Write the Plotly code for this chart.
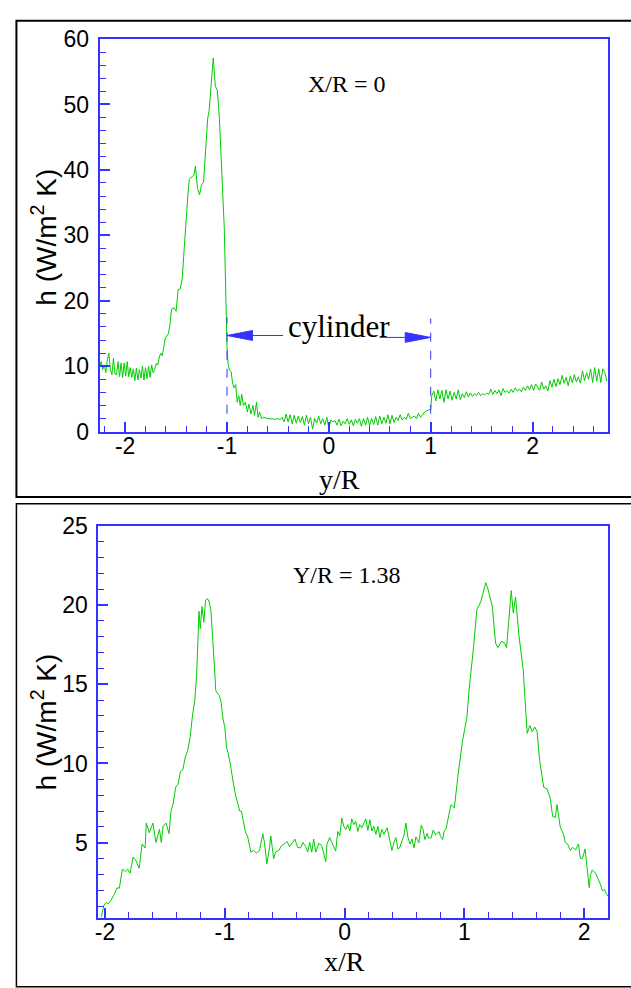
import plotly.graph_objects as go

# ---------------- data: top panel (X/R = 0) ----------------
y_top = [-2.25, -2.235, -2.22, -2.205, -2.19, -2.175, -2.16, -2.145, -2.13, -2.115,
         -2.10, -2.085, -2.07, -2.055, -2.04, -2.025, -2.01, -1.995, -1.98, -1.965,
         -1.95, -1.935, -1.92, -1.905, -1.89, -1.875, -1.86, -1.845, -1.83, -1.815,
         -1.80, -1.785, -1.77, -1.755, -1.74, -1.725, -1.71, -1.695, -1.68, -1.665,
         -1.65, -1.635, -1.62, -1.605, -1.59, -1.575, -1.56, -1.545, -1.535, -1.52,
         -1.50, -1.48, -1.46, -1.44, -1.42, -1.40, -1.385, -1.37, -1.345, -1.325,
         -1.31, -1.29, -1.27, -1.25, -1.23, -1.21, -1.19, -1.175, -1.155, -1.135,
         -1.115, -1.095, -1.075, -1.06, -1.045, -1.027, -1.015, -1.008, -1.0, -0.99,
         -0.975, -0.96, -0.945, -0.93, -0.915, -0.90, -0.885, -0.87, -0.855, -0.84,
         -0.82, -0.80, -0.785, -0.765, -0.745, -0.73, -0.71, -0.695, -0.68, -0.66,
         -0.64, -0.60, -0.56, -0.52, -0.50,
         -0.48, -0.46, -0.44, -0.42, -0.40, -0.38, -0.36, -0.34, -0.32, -0.30,
         -0.28, -0.26, -0.24, -0.22, -0.20, -0.18, -0.16, -0.14, -0.12, -0.10,
         -0.08, -0.06, -0.04, -0.02, 0.0, 0.02, 0.04, 0.06, 0.08, 0.10,
         0.12, 0.14, 0.16, 0.18, 0.20, 0.22, 0.24, 0.26, 0.28, 0.30,
         0.32, 0.34, 0.36, 0.38, 0.40, 0.42, 0.44, 0.46, 0.48, 0.50,
         0.52, 0.54, 0.56, 0.58, 0.60, 0.62, 0.64, 0.66, 0.68, 0.70,
         0.72, 0.74, 0.76, 0.78, 0.80, 0.82, 0.84, 0.86, 0.88, 0.90,
         0.92, 0.94, 0.96, 0.98, 1.0, 1.01, 1.03, 1.05, 1.07, 1.09,
         1.11, 1.13, 1.15, 1.17, 1.19, 1.21, 1.23, 1.25, 1.27, 1.29,
         1.31, 1.33, 1.35, 1.37, 1.39, 1.41, 1.43, 1.45, 1.47, 1.49,
         1.51, 1.53, 1.55, 1.57, 1.59, 1.61, 1.63, 1.65, 1.67, 1.69,
         1.71, 1.73, 1.75, 1.77, 1.79, 1.81, 1.83, 1.85, 1.87, 1.89,
         1.91, 1.93, 1.95, 1.97, 1.99, 2.01, 2.03, 2.05, 2.07, 2.09,
         2.11, 2.13, 2.15, 2.17, 2.19, 2.21, 2.23, 2.25, 2.27, 2.29,
         2.31, 2.33, 2.35, 2.37, 2.39, 2.41, 2.43, 2.45, 2.47, 2.49,
         2.51, 2.53, 2.55, 2.57, 2.59, 2.61, 2.63, 2.65, 2.67, 2.69,
         2.71, 2.73]
h_top = [10.0, 10.7, 9.5, 10.2, 9.0, 11.0, 12.0, 9.5, 8.7, 11.2,
         8.8, 8.7, 10.7, 8.4, 10.5, 8.3, 10.5, 8.5, 10.7, 8.4,
         9.8, 8.3, 9.6, 7.8, 9.7, 7.9, 9.5, 8.2, 10.0, 7.9,
         9.8, 8.1, 10.0, 8.3, 10.2, 9.0, 9.5, 10.4, 10.2, 11.4,
         12.0, 11.6, 13.0, 14.4, 14.6, 15.0, 16.4, 18.6, 18.9, 18.9,
         18.4, 21.7, 21.8, 23.3, 28.0, 33.0, 36.0, 38.6, 38.9, 39.2,
         40.6, 37.2, 36.2, 37.7, 38.1, 43.0, 47.8, 49.1, 53.0, 57.1,
         52.8, 52.2, 48.0, 43.7, 37.5, 31.2, 22.0, 16.4, 13.0, 10.4,
         9.4, 9.2, 7.4, 6.7, 7.2, 4.5, 5.5, 4.0, 5.7, 4.0,
         4.5, 3.0, 4.2, 2.7, 4.0, 2.5, 4.5, 2.2, 3.0, 2.0,
         2.2, 2.0, 1.9, 1.9, 2.0,
         1.8, 2.2, 1.5, 2.7, 1.5, 2.6, 1.2, 2.5, 1.3, 2.4,
         1.4, 2.3, 1.0, 2.5, 1.2, 2.2, 0.4, 2.0, 1.3, 2.4,
         1.2, 2.0, 1.0, 2.2, 0.5, 1.8, 1.5, 1.7, 1.0, 1.9,
         0.9, 1.6, 1.2, 2.0, 1.1, 1.8, 0.9, 1.9, 1.3, 2.0,
         0.8, 2.0, 1.0, 2.2, 0.9, 2.0, 1.1, 2.3, 1.0, 2.4,
         1.2, 2.2, 1.3, 2.6, 1.2, 2.5, 1.4, 2.2, 1.7, 2.6,
         1.8, 2.2, 1.9, 2.8, 2.0, 2.2, 2.4, 2.0, 2.8, 2.2,
         2.6, 3.0, 3.2, 3.3, 3.4, 5.5, 6.2, 4.7, 6.4, 5.0,
         6.3, 4.5, 6.4, 5.0, 6.2, 4.8, 6.0, 5.0, 6.4, 4.9,
         5.8, 5.2, 6.1, 5.3, 5.9, 5.4, 5.8, 5.5, 6.0, 5.5,
         5.8, 5.6, 5.9, 5.7, 6.5, 5.7, 6.3, 5.8, 6.4, 5.5,
         6.6, 6.0, 6.3, 5.9, 6.5, 6.0, 6.7, 6.2, 6.5, 6.1,
         6.8, 6.3, 7.0, 6.4, 7.2, 6.3, 7.3, 6.8, 6.3, 7.6,
         6.5, 7.0, 6.2, 7.8, 6.8, 8.0, 6.9, 8.1, 7.2, 8.6,
         7.4, 8.3, 7.0, 8.5, 7.5, 8.7, 7.6, 8.4, 7.4, 9.3,
         7.8, 9.0, 8.0, 9.6, 7.5, 9.8, 7.7, 9.6, 7.5, 9.6,
         9.0, 7.7]

# ---------------- data: bottom panel (Y/R = 1.38) ----------------
x_bot = [-2.04, -2.03, -2.01, -1.99, -1.975, -1.95, -1.92, -1.90, -1.88, -1.855,
         -1.83, -1.81, -1.79, -1.765, -1.74, -1.715, -1.69, -1.665, -1.655, -1.63,
         -1.60, -1.575, -1.545, -1.53, -1.515, -1.49, -1.465, -1.45, -1.43, -1.41,
         -1.39, -1.37, -1.35, -1.33, -1.31, -1.29, -1.27, -1.25, -1.235, -1.225,
         -1.215, -1.205, -1.19, -1.175, -1.16, -1.145, -1.13, -1.115, -1.10, -1.09,
         -1.075, -1.06, -1.045, -1.03, -1.015, -1.0, -0.985, -0.97, -0.955, -0.94,
         -0.925, -0.91, -0.895, -0.875, -0.86, -0.827, -0.81, -0.783, -0.76, -0.736,
         -0.71, -0.683, -0.669, -0.649, -0.626, -0.616, -0.592, -0.576, -0.549, -0.526,
         -0.502, -0.482, -0.459, -0.442, -0.415, -0.392, -0.368, -0.348, -0.325, -0.308,
         -0.291, -0.274, -0.258, -0.241, -0.214, -0.191, -0.174, -0.157, -0.147, -0.124,
         -0.107, -0.09, -0.074, -0.057, -0.04, -0.023, -0.007, 0.01, 0.027, 0.044,
         0.06, 0.077, 0.094, 0.11, 0.127, 0.144, 0.161, 0.177, 0.194, 0.211,
         0.228, 0.244, 0.261, 0.278, 0.295, 0.311, 0.328, 0.355, 0.378, 0.395,
         0.412, 0.428, 0.445, 0.462, 0.479, 0.495, 0.512, 0.529, 0.546, 0.562,
         0.579, 0.596, 0.62, 0.64, 0.653, 0.67, 0.69, 0.70, 0.722, 0.74,
         0.76, 0.777, 0.79, 0.80, 0.819, 0.83, 0.847, 0.888, 0.916, 0.949,
         0.985, 1.021, 1.04, 1.076, 1.104, 1.137, 1.178, 1.197, 1.233, 1.26,
         1.28, 1.308, 1.335, 1.352, 1.391, 1.408, 1.427, 1.455, 1.491, 1.524,
         1.546, 1.566, 1.588, 1.607, 1.628, 1.662, 1.69, 1.717, 1.737, 1.759,
         1.773, 1.80, 1.828, 1.841, 1.861, 1.885, 1.901, 1.928, 1.952, 1.968,
         1.985, 2.008, 2.028, 2.042, 2.052, 2.068, 2.095, 2.119, 2.136, 2.152,
         2.169, 2.186, 2.20]
h_bot = [0.2, 0.33, 1.04, 1.24, 1.14, 1.37, 1.78, 2.15, 2.13, 3.33,
         3.19, 3.33, 3.08, 4.1, 3.85, 3.39, 4.92, 4.67, 6.24, 5.63,
         6.24, 5.02, 5.84, 5.02, 6.04, 6.24, 5.57, 6.96, 7.5, 8.5,
         8.7, 9.5, 9.6, 10.4, 10.8, 11.6, 13.0, 14.0, 15.6, 17.5,
         19.6, 18.5, 19.9, 18.9, 20.3, 20.4, 20.2, 19.6, 18.0, 16.5,
         14.6, 14.4, 14.3, 13.8, 12.8, 12.3, 11.0, 10.6, 10.0, 9.2,
         8.6, 8.0, 7.6, 7.0, 6.96, 5.63, 5.43, 4.41, 4.51, 4.35,
         4.51, 5.57, 5.02, 3.65, 4.71, 5.43, 4.0, 4.41, 4.51, 4.82,
         4.92, 5.08, 4.76, 4.92, 5.23, 4.71, 4.67, 5.02, 4.76, 4.41,
         5.02, 4.41, 5.23, 4.41, 4.96, 4.82, 4.2, 3.8, 4.92, 5.33,
         5.02, 4.67, 4.47, 5.71, 5.43, 6.55, 6.04, 5.84, 6.14, 5.74,
         6.51, 6.14, 6.35, 5.71, 6.14, 5.94, 6.24, 6.51, 5.78, 6.45,
         5.74, 6.04, 5.53, 6.04, 5.33, 5.84, 5.53, 5.94, 5.12, 4.51,
         5.02, 5.33, 4.61, 4.71, 5.12, 5.43, 6.24, 5.33, 4.92, 5.23,
         4.67, 5.37, 5.0, 6.1, 5.9, 5.2, 5.6, 5.3, 5.3, 5.8,
         5.5, 5.6, 5.7, 5.4, 5.2, 5.7, 5.9, 7.4, 7.2, 9.4,
         11.45, 12.9, 14.7, 17.3, 19.7, 20.2, 21.4, 21.0, 19.9, 17.6,
         17.3, 17.7, 17.6, 17.3, 20.9, 19.5, 20.5, 18.1, 15.9, 11.9,
         12.4, 12.0, 12.3, 12.0, 10.2, 8.5, 8.4, 7.8, 6.65, 6.6,
         7.4, 6.0, 5.53, 5.02, 4.92, 4.51, 4.71, 4.55, 4.92, 4.0,
         4.0, 4.61, 3.39, 2.17, 2.98, 3.28, 3.08, 2.67, 2.37, 1.96,
         2.06, 1.76, 1.61]

# ---------------- axes / labels ----------------
cyl_left, cyl_right = -1.0, 1.0
top_xrange = [-2.25, 2.745]
top_yrange = [0, 60]
bot_xrange = [-2.055, 2.2]
bot_yrange = [0.28, 25]
x_tickvals = [-2, -1, 0, 1, 2]
x_ticktext = ["-2", "-1", "0", "1", "2"]
top_ytickvals = [0, 10, 20, 30, 40, 50, 60]
bot_ytickvals = [5, 10, 15, 20, 25]

W, H = 631, 988
BLUE = "#3333ff"
GREEN = "#00cc00"
SANS = "Liberation Sans, Arial, sans-serif"
SERIF = "Liberation Serif, Times New Roman, serif"


def px(v):
    return v / W


def py(v):
    return 1 - v / H


fig = go.Figure()
fig.add_trace(go.Scatter(x=y_top, y=h_top, mode="lines",
                         line=dict(color=GREEN, width=1), xaxis="x", yaxis="y",
                         showlegend=False))
fig.add_trace(go.Scatter(x=x_bot, y=h_bot, mode="lines",
                         line=dict(color=GREEN, width=1), xaxis="x2", yaxis="y2",
                         showlegend=False))


def axis_common(minor_dtick):
    return dict(
        showline=True, linecolor=BLUE, linewidth=2, mirror=True,
        ticks="inside", ticklen=10, tickwidth=2, tickcolor=BLUE,
        showgrid=False, zeroline=False,
        tickfont=dict(family=SANS, size=23, color="black"),
        minor=dict(dtick=minor_dtick, ticks="inside", ticklen=6, tickwidth=1,
                   tickcolor=BLUE, showgrid=False),
    )


fig.update_layout(
    width=W, height=H,
    margin=dict(l=0, r=0, t=0, b=0),
    paper_bgcolor="white", plot_bgcolor="white",
    xaxis=dict(domain=[px(96.3), px(608.3)], anchor="y", range=top_xrange,
               tickmode="array", tickvals=x_tickvals, ticktext=x_ticktext,
               ticklabelstandoff=-7, **axis_common(0.2)),
    yaxis=dict(domain=[py(430), py(26.7)], anchor="x", range=top_yrange,
               tickmode="array", tickvals=top_ytickvals,
               ticklabelstandoff=4, **axis_common(2)),
    xaxis2=dict(domain=[px(95), px(608)], anchor="y2", range=bot_xrange,
                tickmode="array", tickvals=x_tickvals, ticktext=x_ticktext,
                ticklabelstandoff=-7, **axis_common(0.2)),
    yaxis2=dict(domain=[py(929), py(526.5)], anchor="x2", range=bot_yrange,
                tickmode="array", tickvals=bot_ytickvals,
                ticklabelstandoff=4, **axis_common(1)),
)

# outer black frames
fig.add_shape(type="rect", xref="paper", yref="paper",
              x0=px(12.5), x1=px(640), y0=py(497), y1=py(8),
              line=dict(color="black", width=2), layer="below")
fig.add_shape(type="rect", xref="paper", yref="paper",
              x0=px(12.5), x1=px(640), y0=py(1000), y1=py(504),
              line=dict(color="black", width=1.5), layer="below")

# cylinder markers
for xc, top in [(cyl_left, 17.5), (cyl_right, 17.3)]:
    fig.add_shape(type="line", xref="x", yref="y", x0=xc, x1=xc, y0=0, y1=top,
                  line=dict(color=BLUE, width=1, dash="dash"))
arr_y_l, arr_y_r = 14.7, 14.4
head_len, head_half = 0.25, 0.75
fig.add_shape(type="line", xref="x", yref="y", x0=-0.45, x1=cyl_left + head_len,
              y0=arr_y_l, y1=arr_y_l, line=dict(color=BLUE, width=1))
fig.add_shape(type="path", xref="x", yref="y",
              path=f"M {cyl_left} {arr_y_l} L {cyl_left + head_len} {arr_y_l + head_half} "
                   f"L {cyl_left + head_len} {arr_y_l - head_half} Z",
              fillcolor=BLUE, line=dict(color=BLUE, width=1))
fig.add_shape(type="line", xref="x", yref="y", x0=0.5, x1=cyl_right - head_len,
              y0=arr_y_r, y1=arr_y_r, line=dict(color=BLUE, width=1))
fig.add_shape(type="path", xref="x", yref="y",
              path=f"M {cyl_right} {arr_y_r} L {cyl_right - head_len} {arr_y_r + head_half} "
                   f"L {cyl_right - head_len} {arr_y_r - head_half} Z",
              fillcolor=BLUE, line=dict(color=BLUE, width=1))

C = dict(xanchor="center", yanchor="middle", showarrow=False)
fig.add_annotation(x=0.1, y=16.1, xref="x", yref="y", text="cylinder",
                   font=dict(family=SERIF, size=31, color="black"), **C)
fig.add_annotation(x=px(345), y=py(73), xref="paper", yref="paper", text="X/R = 0",
                   font=dict(family=SERIF, size=24, color="black"), **C)
fig.add_annotation(x=px(345), y=py(577), xref="paper", yref="paper", text="Y/R = 1.38",
                   font=dict(family=SERIF, size=24, color="black"), **C)

# axis titles
fig.add_annotation(x=px(338), y=py(479), xref="paper", yref="paper", text="y/R",
                   font=dict(family=SERIF, size=28, color="black"), **C)
fig.add_annotation(x=px(343), y=py(974), xref="paper", yref="paper", text="x/R",
                   font=dict(family=SERIF, size=28, color="black"), **C)
for cy in (230, 728):
    fig.add_annotation(x=px(40), y=py(cy), xref="paper", yref="paper",
                       text="h (W/m<sup>2</sup> K)", textangle=-90,
                       font=dict(family=SANS, size=28, color="black"), **C)

fig.write_html("out.html")
